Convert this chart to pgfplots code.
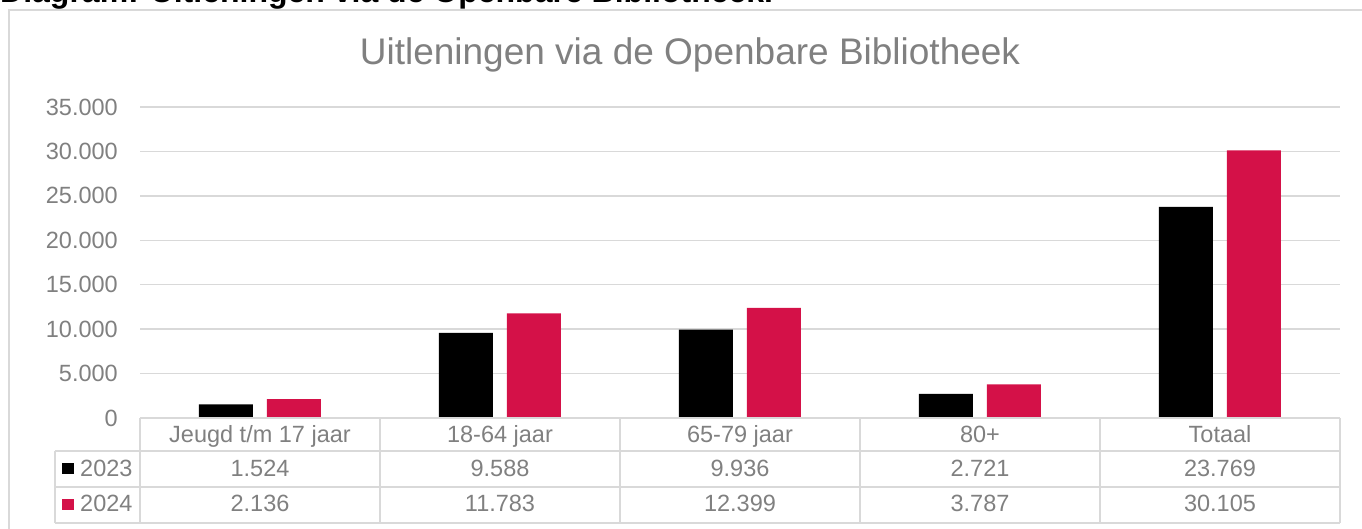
\documentclass[border=0pt]{standalone}
\usepackage{fontspec}
\setmainfont{Liberation Sans}
\usepackage{pgfplots}
\pgfplotsset{compat=1.18}
\definecolor{txt}{RGB}{128,128,128}
\definecolor{red24}{RGB}{212,17,72}
\definecolor{gridc}{RGB}{217,217,217}
\newcommand{\tf}{\fontsize{23.5}{28}\selectfont}
\begin{document}
\begin{tikzpicture}[x=1pt,y=1pt]
\useasboundingbox (0,0) rectangle (1362,529);
\node[anchor=base west, inner sep=0, font=\fontsize{32}{38}\selectfont\bfseries] at (0,526) {Diagram: Uitleningen via de Openbare Bibliotheek.};
\draw[gridc, line width=1.5pt] (9,-10) -- (9,519) -- (1380,519);
\node[anchor=base, inner sep=0, font=\fontsize{37}{44}\selectfont, text=txt] at (690,464) {Uitleningen via de Openbare Bibliotheek};
\begin{axis}[at={(140pt,111pt)}, anchor=south west, scale only axis,
  width=1200pt, height=311pt, xmin=-0.5, xmax=4.5, ymin=0, ymax=35000,
  ytick={0,5000,...,35000}, xtick=\empty, scaled y ticks=false,
  ymajorgrids, grid style={gridc, line width=1.3pt},
  axis line style={draw=none}, major tick length=0pt,
  yticklabel style={font=\tf, text=txt, anchor=east, inner sep=0pt, xshift=-22pt},
  /pgf/number format/1000 sep={.},
  /pgf/number format/assume math mode=true,
  clip=false]
\addplot[ybar, bar width=54pt, bar shift=-34pt, fill=black, draw=none]
  coordinates {(0,1524) (1,9588) (2,9936) (3,2721) (4,23769)};
\addplot[ybar, bar width=54pt, bar shift=34pt, fill=red24, draw=none]
  coordinates {(0,2136) (1,11783) (2,12399) (3,3787) (4,30105)};
\end{axis}
\begin{scope}[gridc, line width=1.5pt]
\draw (140,111) -- (1340,111);
\foreach \x in {140,380,620,860,1100,1340} \draw (\x,111) -- (\x,6);
\draw (55,78) -- (1340,78);
\draw (55,42) -- (1340,42);
\draw (55,6) -- (1340,6);
\draw (55,78) -- (55,6);
\end{scope}
\begin{scope}[every node/.style={anchor=base, inner sep=0, font=\tf, text=txt}]
\node at (260,86) {Jeugd t/m 17 jaar};
\node at (500,86) {18-64 jaar};
\node at (740,86) {65-79 jaar};
\node at (980,86) {80+};
\node at (1220,86) {Totaal};
\node at (260,52) {1.524};
\node at (500,52) {9.588};
\node at (740,52) {9.936};
\node at (980,52) {2.721};
\node at (1220,52) {23.769};
\node at (260,17) {2.136};
\node at (500,17) {11.783};
\node at (740,17) {12.399};
\node at (980,17) {3.787};
\node at (1220,17) {30.105};
\node[anchor=base west] at (80,52) {2023};
\node[anchor=base west] at (80,17) {2024};
\end{scope}
\fill[black] (62,55) rectangle (74,66);
\fill[red24] (62,19) rectangle (74,30);
\end{tikzpicture}
\end{document}
